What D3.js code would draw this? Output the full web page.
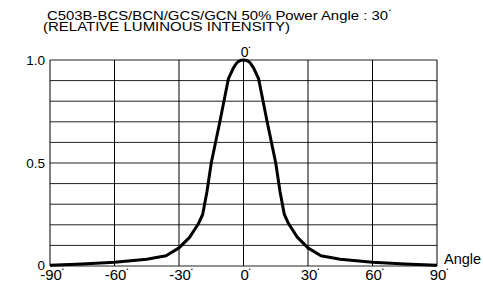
<!DOCTYPE html>
<html>
<head>
<meta charset="utf-8">
<script src="https://cdn.jsdelivr.net/npm/d3@7"></script>
<style>
  body { margin: 0; background: #fff; }
  svg text { font-family: "Liberation Sans", Arial, sans-serif; fill: #000; }
</style>
</head>
<body>
<svg id="chart" width="483" height="281"></svg>
<script>
// chart data
const angles = [-90, -75, -60, -45, -36, -30, -25, -21, -19, -17, -15, -11, -7, -5, -4, -3, -2, -1, 0,
                1, 2, 3, 4, 5, 7, 11, 15, 17, 19, 21, 25, 30, 36, 45, 60, 75, 90];
const intensity = [0.004, 0.01, 0.018, 0.033, 0.05, 0.088, 0.14, 0.205, 0.25, 0.36, 0.5, 0.7, 0.91, 0.955, 0.973, 0.987, 0.995, 0.999, 1.0,
                   0.999, 0.995, 0.987, 0.973, 0.955, 0.91, 0.7, 0.5, 0.36, 0.25, 0.205, 0.14, 0.088, 0.05, 0.033, 0.018, 0.01, 0.004];
const xTicks = [-90, -60, -30, 0, 30, 60, 90];
const yGrid = [0, 0.1, 0.2, 0.3, 0.4, 0.5, 0.6, 0.7, 0.8, 0.9, 1.0];
const yLabels = [[0, "0"], [0.5, "0.5"], [1.0, "1.0"]];
const titleLine1 = "C503B-BCS/BCN/GCS/GCN 50% Power Angle : 30";
const titleLine2 = "(RELATIVE LUMINOUS INTENSITY)";
const degMark = "\u2022";

const svg = d3.select("#chart");
const margin = {left: 50, top: 60, right: 46, bottom: 15};
const W = 483, H = 281;

const x = d3.scaleLinear().domain([-90, 90]).range([margin.left, W - margin.right]);
const y = d3.scaleLinear().domain([0, 1]).range([H - margin.bottom, margin.top]);

// grid
svg.append("g")
    .selectAll("line")
    .data(yGrid)
    .enter()
    .append("line")
    .attr("x1", x(-90)).attr("x2", x(90))
    .attr("y1", d => y(d)).attr("y2", d => y(d))
    .attr("stroke", "#222")
    .attr("stroke-width", 1);

svg.append("g")
    .selectAll("line")
    .data(xTicks)
    .enter()
    .append("line")
    .attr("x1", d => x(d)).attr("x2", d => x(d))
    .attr("y1", y(0)).attr("y2", y(1))
    .attr("stroke", "#000")
    .attr("stroke-width", 1);

// curve
const line = d3.line()
    .x((d, i) => x(angles[i]))
    .y(d => y(d))
    .curve(d3.curveLinear);

svg.append("path")
    .datum(intensity)
    .attr("fill", "none")
    .attr("stroke", "#000")
    .attr("stroke-width", 3)
    .attr("stroke-linejoin", "round")
    .attr("d", line);

// y labels
svg.append("g")
    .selectAll("text")
    .data(yLabels)
    .enter()
    .append("text")
    .attr("x", x(-90) - 5)
    .attr("y", d => d[0] === 0 ? y(d[0]) + 4 : y(d[0]) + 5)
    .attr("text-anchor", "end")
    .style("font-size", "13.5px")
    .text(d => d[1]);

// x labels
const xl = svg.append("g")
    .selectAll("text")
    .data(xTicks)
    .enter()
    .append("text")
    .attr("x", d => x(d) + 2)
    .attr("y", 280)
    .attr("text-anchor", "middle")
    .style("font-size", "15px");
xl.append("tspan").text(d => d);
xl.append("tspan").attr("dy", -9).style("font-size", "5px").text(degMark);

// 0 degree on top
const top0 = svg.append("text")
    .attr("x", x(0) + 2)
    .attr("y", 57)
    .attr("text-anchor", "middle")
    .style("font-size", "14px");
top0.append("tspan").text("0");
top0.append("tspan").attr("dy", -8).style("font-size", "5px").text(degMark);

svg.append("text")
    .attr("x", 444)
    .attr("y", 264)
    .style("font-size", "14.5px")
    .text("Angle");

// title
svg.append("text")
    .attr("x", 47)
    .attr("y", 20)
    .attr("textLength", 341)
    .attr("lengthAdjust", "spacingAndGlyphs")
    .style("font-size", "13px")
    .text(titleLine1);

svg.append("text")
    .attr("x", 389)
    .attr("y", 12)
    .style("font-size", "5px")
    .text(degMark);

svg.append("text")
    .attr("x", 43)
    .attr("y", 31)
    .attr("textLength", 247)
    .attr("lengthAdjust", "spacingAndGlyphs")
    .style("font-size", "13px")
    .text(titleLine2);
</script>
</body>
</html>
